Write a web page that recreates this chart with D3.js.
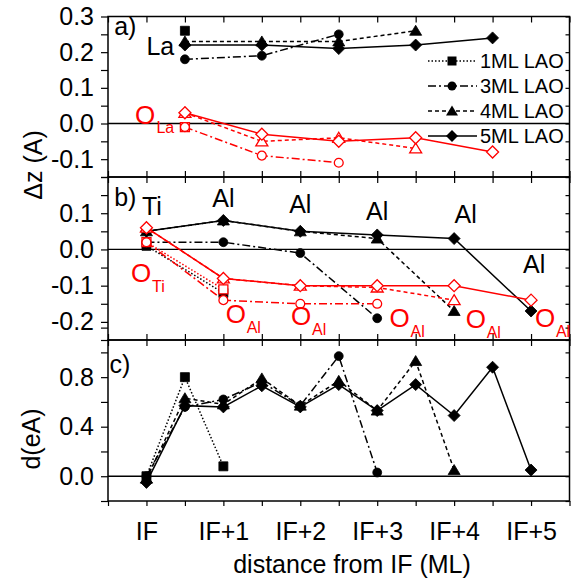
<!DOCTYPE html>
<html><head><meta charset="utf-8">
<script src="https://cdn.jsdelivr.net/npm/d3@7"></script>
<style>body{margin:0;background:#fff} svg{display:block} text{font-family:"Liberation Sans",Arial,Helvetica,sans-serif}</style>
</head><body><svg id="c" width="571" height="580"></svg>
<script>
// ---------- data ----------
const series = ["1ML LAO","3ML LAO","4ML LAO","5ML LAO"];
const posA = [0.5,1.5,2.5,3.5,4.5];
const posB = [0,1,2,3,4,5];
const posC = [0,0.5,1,1.5,2,2.5,3,3.5,4,4.5,5];
// panel a : La (black) and O_La (red)
const aLa1=[0.26], aLa3=[0.18,0.19,0.25], aLa4=[0.23,0.23,0.23,0.26], aLa5=[0.22,0.22,0.21,0.22,0.24];
const aO1=[-0.01], aO3=[-0.01,-0.09,-0.11], aO4=[0.03,-0.05,-0.04,-0.07], aO5=[0.03,-0.03,-0.05,-0.04,-0.08];
// panel b : Ti/Al (black) and O_Ti/O_Al (red)
const bM1=[0.01,-0.12], bM3=[0.02,0.02,-0.01,-0.19], bM4=[0.05,0.08,0.05,0.03,-0.17], bM5=[0.05,0.08,0.05,0.04,0.03,-0.17];
const bO1=[0.02,-0.11], bO3=[0.02,-0.14,-0.15,-0.15], bO4=[0.06,-0.08,-0.10,-0.105,-0.14], bO5=[0.06,-0.08,-0.10,-0.10,-0.10,-0.14];
// panel c : d(eA)
const c1=[0.0,0.80,0.08], c3=[0.0,0.56,0.62,0.76,0.57,0.97,0.03],
      c4=[-0.02,0.63,0.58,0.79,0.57,0.77,0.53,0.93,0.05],
      c5=[-0.05,0.57,0.56,0.73,0.56,0.74,0.53,0.74,0.49,0.88,0.05];
const xTickLabels=["IF","IF+1","IF+2","IF+3","IF+4","IF+5"];
const aYLabels=["-0.1","0.0","0.1","0.2","0.3"];
const bYLabels=["-0.2","-0.1","0.0","0.1"];
const cYLabels=["0.0","0.4","0.8"];
const bCationLabels=["Ti","Al","Al","Al","Al","Al"];
const bOxygenSubs=["Ti","Al","Al","Al","Al","Al"];

// ---------- layout ----------
const svg=d3.select("#c");
const L=108,R=569.5;
const x=d3.scaleLinear().domain([-0.5,5.5]).range([L,R]);
const yA=d3.scaleLinear().domain([-0.15,0.3]).range([177,16.5]);
const yB=d3.scaleLinear().domain([-0.25,0.2]).range([340,177]);
const yC=d3.scaleLinear().domain([-0.2,1.1]).range([501,340]);
const dashes=["1.5,2","8,3,2,3","4,3",null];
const shapes=[
  "M-4.5,-4.5H4.5V4.5H-4.5Z",
  d3.symbol(d3.symbolCircle,62)(),
  "M0,-5.5L6,4.5L-6,4.5Z",
  "M0,-6L6,0L0,6L-6,0Z"
];
const FS=25;

function frame(y,step,labels,bottomLabels){
  const g=svg.append("g");
  const tv=d3.range(Math.round(y.domain()[0]/step),Math.round(y.domain()[1]/step)+1).map(i=>+(i*step).toFixed(3));
  const lab=new Map(labels.map(s=>[+s,s]));
  const ax=g.append("g").attr("transform",`translate(${L},0)`)
    .call(d3.axisLeft(y).tickValues(tv).tickSize(7).tickPadding(7).tickFormat(v=>lab.has(+v.toFixed(3))?lab.get(+v.toFixed(3)):""));
  ax.selectAll("text").style("font-size",FS+"px").attr("fill","#000");
  g.append("g").attr("transform",`translate(${R},0)`).call(d3.axisLeft(y).tickValues(tv).tickSize(4).tickFormat(""));
  const xt=d3.range(-0.5,5.51,0.5);
  g.append("g").attr("transform",`translate(0,${y.range()[1]})`).call(d3.axisBottom(x).tickValues(xt).tickSize(6).tickFormat(""));
  if(bottomLabels){
    const bx=g.append("g").attr("transform",`translate(0,${y.range()[0]})`)
      .call(d3.axisBottom(x).tickValues(xt).tickSize(5).tickPadding(16).tickFormat(v=>Number.isInteger(v)&&v>=0?xTickLabels[v]:""));
    bx.selectAll("text").style("font-size",FS+"px").attr("fill","#000");
  } else {
    g.append("g").attr("transform",`translate(0,${y.range()[0]})`).call(d3.axisTop(x).tickValues(xt).tickSize(6).tickFormat(""));
  }
  g.selectAll(".domain").remove();
  g.selectAll(".tick line").attr("stroke","#000").attr("stroke-width",1.2);
  g.append("rect").attr("x",L).attr("y",y.range()[1]).attr("width",R-L).attr("height",y.range()[0]-y.range()[1])
    .attr("fill","none").attr("stroke","#000").attr("stroke-width",1.5);
  g.append("line").attr("x1",L).attr("x2",R).attr("y1",y(0)).attr("y2",y(0)).attr("stroke","#000").attr("stroke-width",1.3);
}

function draw(y,pos,vals,i,color,open){
  const g=svg.append("g");
  const line=d3.line().x((d,k)=>x(pos[k])).y(d=>y(d));
  g.append("path").datum(vals).attr("d",line).attr("fill","none").attr("stroke",color)
    .attr("stroke-width",1.5).attr("stroke-dasharray",dashes[i]);
  g.selectAll("path.m").data(vals).enter().append("path").attr("class","m")
    .attr("d",shapes[i]).attr("transform",(d,k)=>`translate(${x(pos[k])},${y(d)})`)
    .attr("fill",open?"#fff":color).attr("stroke",color).attr("stroke-width",open?1.3:0.8);
}

frame(yA,0.05,aYLabels,false);
frame(yB,0.05,bYLabels,false);
frame(yC,0.2,cYLabels,true);

const red="#ff0000";
[aLa1,aLa3,aLa4,aLa5].forEach((v,i)=>draw(yA,posA,v,i,"#000",false));
[aO1,aO3,aO4,aO5].forEach((v,i)=>draw(yA,posA,v,i,red,true));
[bM1,bM3,bM4,bM5].forEach((v,i)=>draw(yB,posB,v,i,"#000",false));
[bO1,bO3,bO4,bO5].forEach((v,i)=>draw(yB,posB,v,i,red,true));
[c1,c3,c4,c5].forEach((v,i)=>draw(yC,posC,v,i,"#000",false));

// ---------- annotations ----------
function txt(t,px,py,opt={}){
  return svg.append("text").attr("x",px).attr("y",py).text(t)
    .style("font-size",(opt.fs||FS)+"px").attr("fill",opt.color||"#000").attr("text-anchor",opt.anchor||"start");
}
txt("a)",x(-0.42),yA(0.247));
txt("La",x(0.0),yA(0.193));
txt("b)",x(-0.42),yB(0.121));
txt("c)",x(-0.48),yC(0.83));
// O_La
txt("O",x(-0.15),yA(0.0),{color:red,fs:26});
txt("La",x(0.13),yA(-0.027),{color:red,fs:16});
// panel b cation labels
const cationX=[0.07,1,2,3,4.15,5.04];
const cationY=[0.095,0.118,0.10,0.08,0.072,-0.065];
bCationLabels.forEach((t,k)=>txt(t,x(cationX[k]),yB(cationY[k]),{anchor:"middle"}));
// oxygen labels
const oxX=[-0.2,1.03,1.88,3.16,4.15,5.05];
const oxY=[-0.09,-0.203,-0.209,-0.214,-0.217,-0.214];
bOxygenSubs.forEach((s,k)=>{
  txt("O",x(oxX[k]),yB(oxY[k]),{color:red,fs:26});
  txt(s,x(oxX[k])+21,yB(oxY[k])+10,{color:red,fs:16});
});

// ---------- legend ----------
const lg=svg.append("g");
series.forEach((s,i)=>{
  const cy=61+i*25;
  lg.append("line").attr("x1",428).attr("x2",477).attr("y1",cy).attr("y2",cy)
    .attr("stroke","#000").attr("stroke-width",1.5).attr("stroke-dasharray",dashes[i]);
  lg.append("path").attr("d",shapes[i]).attr("transform",`translate(452,${cy})`).attr("fill","#000");
  lg.append("text").attr("x",480).attr("y",cy+7).text(s).style("font-size","20px");
});

// ---------- axis titles ----------
svg.append("text").attr("transform",`translate(42,165) rotate(-90)`).attr("text-anchor","middle").text("Δz (A)").style("font-size",FS+"px");
svg.append("text").attr("transform",`translate(40,439) rotate(-90)`).attr("text-anchor","middle").text("d(eA)").style("font-size",FS+"px");
svg.append("text").attr("x",352).attr("y",573).attr("text-anchor","middle").text("distance from IF (ML)").style("font-size",FS+"px");
</script></body></html>
